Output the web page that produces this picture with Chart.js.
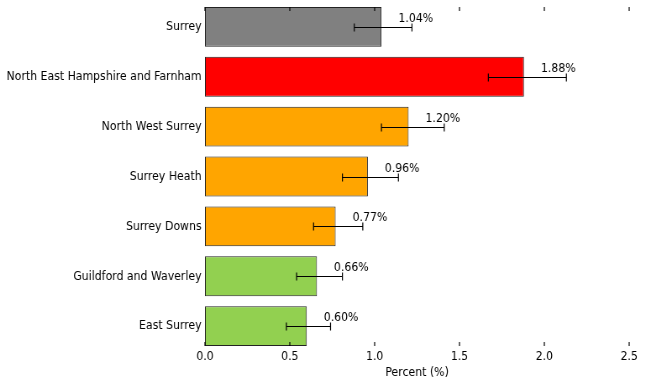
<!DOCTYPE html>
<html>
<head>
<meta charset="utf-8">
<script src="https://cdn.jsdelivr.net/npm/chart.js@4"></script>
<style>
  html, body { margin: 0; padding: 0; background: #fff; overflow: hidden; }
  /* the reference text is narrow for its height, so the canvas is squeezed sideways */
  #wrap { width: 768px; height: 384px; transform: scaleX(0.84); transform-origin: 0 0; }
</style>
</head>
<body>
<div id="wrap"><canvas id="chart" width="768" height="384"></canvas></div>
<script>
  // Data
  const areas = [
    "Surrey",
    "North East Hampshire and Farnham",
    "North West Surrey",
    "Surrey Heath",
    "Surrey Downs",
    "Guildford and Waverley",
    "East Surrey",
  ];
  const percents = [1.04, 1.88, 1.2, 0.96, 0.77, 0.66, 0.6];
  const errLow = [0.88, 1.67, 1.04, 0.81, 0.64, 0.54, 0.48];
  const errHigh = [1.22, 2.13, 1.41, 1.14, 0.93, 0.81, 0.74];
  const barColors = ["#808080", "#ff0000", "#ffa500", "#ffa500", "#ffa500", "#92d050", "#92d050"];
  const xTicks = [0, 0.5, 1, 1.5, 2, 2.5];

  const font = "DejaVu Sans";
  const barPct = 0.8;

  // error bars, value labels and inward tick marks
  const extras = {
    id: "extras",
    afterDatasetsDraw(chart) {
      const ctx = chart.ctx;
      const x = chart.scales.x;
      const y = chart.scales.y;
      ctx.save();
      ctx.strokeStyle = "#000";
      ctx.lineWidth = 1.2;
      percents.forEach((v, i) => {
        const cy = Math.round(y.getPixelForValue(i)) + 0.5;
        const x1 = x.getPixelForValue(errLow[i]);
        const x2 = x.getPixelForValue(errHigh[i]);
        ctx.beginPath();
        ctx.moveTo(x1, cy); ctx.lineTo(x2, cy);
        ctx.moveTo(x1, cy - 4); ctx.lineTo(x1, cy + 4);
        ctx.moveTo(x2, cy - 4); ctx.lineTo(x2, cy + 4);
        ctx.stroke();
        ctx.fillStyle = "#000";
        ctx.font = "13px " + font;
        ctx.textAlign = "left";
        ctx.textBaseline = "middle";
        ctx.fillText(v.toFixed(2) + "%", x.getPixelForValue(v + 0.1), cy - 9);
      });
      // axes edges sit at the outer edges of the first and last bars
      const band = y.getPixelForValue(1) - y.getPixelForValue(0);
      const top = y.getPixelForValue(0) - (band * barPct) / 2;
      const bottom = y.getPixelForValue(areas.length - 1) + (band * barPct) / 2;
      xTicks.forEach((t) => {
        const px = x.getPixelForValue(t);
        ctx.beginPath();
        ctx.moveTo(px, top); ctx.lineTo(px, top + 4);
        ctx.moveTo(px, bottom); ctx.lineTo(px, bottom - 4);
        ctx.stroke();
      });
      ctx.restore();
    },
  };

  new Chart(document.getElementById("chart"), {
    type: "bar",
    data: {
      labels: areas,
      datasets: [
        {
          data: percents,
          backgroundColor: barColors,
          borderColor: "#222",
          borderWidth: 1,
          borderSkipped: false,
          barPercentage: barPct,
          categoryPercentage: 1,
        },
      ],
    },
    options: {
      indexAxis: "y",
      responsive: false,
      animation: false,
      layout: { padding: { top: 2, right: 19, left: 0, bottom: 0 } },
      plugins: {
        legend: { display: false },
        tooltip: { enabled: false },
      },
      scales: {
        x: {
          min: 0,
          max: 2.5,
          grid: { display: false, drawTicks: false },
          border: { display: false },
          afterBuildTicks(scale) {
            scale.ticks = xTicks.map((v) => ({ value: v }));
          },
          afterFit(scale) {
            scale.height = 33;
            scale.paddingLeft = 0;
            scale.paddingRight = 0;
          },
          ticks: {
            color: "#000",
            font: { family: font, size: 13 },
            padding: -2,
            maxRotation: 0,
            callback: (v) => Number(v).toFixed(1),
          },
          title: {
            display: true,
            text: "Percent (%)",
            color: "#000",
            font: { family: font, size: 13 },
            padding: { top: 0, bottom: 4 },
          },
        },
        y: {
          grid: { display: false, drawTicks: false },
          border: { display: false },
          afterFit(scale) {
            scale.width = 244;
            scale.paddingTop = 0;
            scale.paddingBottom = 0;
          },
          ticks: {
            color: "#000",
            font: { family: font, size: 13 },
            padding: 4,
          },
        },
      },
    },
    plugins: [extras],
  });
</script>
</body>
</html>
